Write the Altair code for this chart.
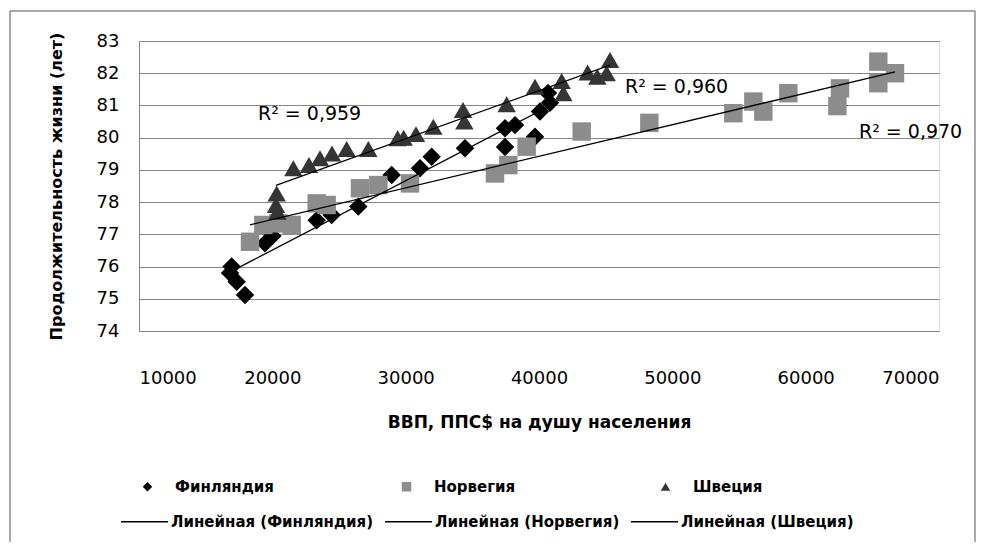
import altair as alt
import pandas as pd

countries = ["Финляндия", "Норвегия", "Швеция"]
trend_names = ["Линейная (Финляндия)", "Линейная (Норвегия)", "Линейная (Швеция)"]

fin_gdp = [16950, 16825, 17325, 17950, 19450, 20000, 23325, 24450, 26450, 28950,
           31075, 31950, 34450, 37450, 37450, 38200, 39700, 40075, 40675, 40825]
fin_life = [76.0, 75.8, 75.53, 75.12, 76.72, 76.95, 77.44, 77.6, 77.86, 78.84,
            79.05, 79.41, 79.67, 79.71, 80.29, 80.39, 80.03, 80.81, 81.39, 81.08]

nor_gdp = [18325, 19325, 20450, 21450, 23325, 24075, 26575, 27950, 30325, 36700,
           37700, 39075, 43200, 48275, 54575, 56075, 56825, 58700, 62575, 62375,
           65450, 65450, 66700]
nor_life = [76.77, 77.29, 77.34, 77.29, 77.96, 77.91, 78.43, 78.53, 78.58, 78.89,
            79.15, 79.72, 80.19, 80.46, 80.76, 81.12, 80.81, 81.38, 81.53, 80.98,
            82.36, 81.69, 82.0]

swe_gdp = [20325, 20275, 20375, 21575, 22750, 23575, 24475, 25575, 27200, 29400,
           29850, 30775, 32075, 34300, 34400, 37575, 39700, 41700, 41825, 43650,
           44375, 45075, 45325]
swe_life = [78.27, 77.91, 77.7, 79.05, 79.15, 79.36, 79.51, 79.65, 79.65, 79.98,
            80.0, 80.11, 80.34, 80.86, 80.5, 81.04, 81.58, 81.76, 81.38, 82.02,
            81.89, 82.0, 82.41]

r2_text = ["R² = 0,959", "R² = 0,960", "R² = 0,970"]
r2_gdp = [18925, 46450, 64000]
r2_life = [80.55, 81.39, 79.99]

x_ticks = [10000, 20000, 30000, 40000, 50000, 60000, 70000]
y_ticks = [74, 75, 76, 77, 78, 79, 80, 81, 82, 83]

rows = []
for c, gx, ly in zip(countries, [fin_gdp, nor_gdp, swe_gdp], [fin_life, nor_life, swe_life]):
    for a, b in zip(gx, ly):
        rows.append({"country": c, "gdp": a, "life": b})
df = pd.DataFrame(rows)
lab = pd.DataFrame({"text": r2_text, "gdp": r2_gdp, "life": r2_life})

FONT = "DejaVu Sans"
GRID = "#868686"

x_enc = alt.X(
    "gdp:Q",
    scale=alt.Scale(domain=[10000, 70000], nice=False, zero=False),
    axis=alt.Axis(values=x_ticks, format="d", grid=False, ticks=False, labelOverlap=False,
                  domainColor=GRID, labelPadding=38, labelFont=FONT, labelFontSize=18,
                  labelColor="#000000", title="ВВП, ППС$ на душу населения",
                  titleFont=FONT, titleFontSize=17, titleFontWeight="bold",
                  titleColor="#000000", titlePadding=27),
)
y_enc = alt.Y(
    "life:Q",
    scale=alt.Scale(domain=[74, 83], nice=False, zero=False),
    axis=alt.Axis(values=y_ticks, grid=True, gridColor=GRID, gridWidth=1, ticks=False,
                  labelOverlap=False, domainColor=GRID, labelPadding=20, labelFont=FONT,
                  labelFontSize=18, labelColor="#000000", title="Продолжительность жизни (лет)",
                  titleFont=FONT, titleFontSize=16, titleFontWeight="bold",
                  titleColor="#000000", titlePadding=32),
)

sym_legend = alt.Legend(title=None, orient="none", legendX=1, legendY=438, direction="horizontal",
                        columns=3, gridAlign="all", columnPadding=125, labelOffset=20,
                        symbolSize=90, labelFont=FONT, labelFontSize=15, labelFontWeight="bold",
                        labelColor="#000000", symbolStrokeWidth=0, labelLimit=300)

points = alt.Chart(df).mark_point(filled=True, opacity=1, size=340, strokeWidth=0).encode(
    x=x_enc,
    y=y_enc,
    color=alt.Color("country:N", scale=alt.Scale(domain=countries, range=["#000000", "#8c8c8c", "#353535"]),
                    legend=sym_legend),
    shape=alt.Shape("country:N", scale=alt.Scale(domain=countries, range=["diamond", "square", "triangle-up"]),
                    legend=sym_legend),
)

line_legend = alt.Legend(title=None, orient="none", legendX=-19, legendY=456, direction="horizontal",
                         columns=3, gridAlign="each", columnPadding=8, labelOffset=2,
                         symbolType="stroke", symbolSize=2209, symbolStrokeWidth=1.3,
                         labelFont=FONT, labelFontSize=15, labelFontWeight="bold",
                         labelColor="#000000", labelLimit=300)

lines = alt.Chart(df).transform_regression(
    "gdp", "life", groupby=["country"]
).transform_calculate(
    trend='"Линейная (" + datum.country + ")"'
).mark_line(strokeWidth=1.3).encode(
    x=x_enc,
    y=y_enc,
    stroke=alt.Stroke("trend:N", scale=alt.Scale(domain=trend_names, range=["#000000", "#000000", "#000000"]),
                      legend=line_legend),
)

labels = alt.Chart(lab).mark_text(align="left", baseline="alphabetic", font=FONT, fontSize=19,
                                  color="#000000").encode(
    x=x_enc, y=y_enc, text="text:N"
)

frame = alt.Chart(pd.DataFrame({"k": [0]})).mark_rect(
    fillOpacity=0, stroke="#555555", strokeWidth=1
).encode(
    x=alt.value(-129), x2=alt.value(836), y=alt.value(-30), y2=alt.value(530)
)

chart = alt.layer(points, lines, labels, frame).properties(
    width=800, height=290,
    autosize=alt.AutoSizeParams(type="none"),
    padding={"left": 131, "top": 33, "right": 37, "bottom": 211},
).configure_view(stroke=None).configure(background="white")

chart.save("out.html", embed_options={"renderer": "svg", "actions": False})
